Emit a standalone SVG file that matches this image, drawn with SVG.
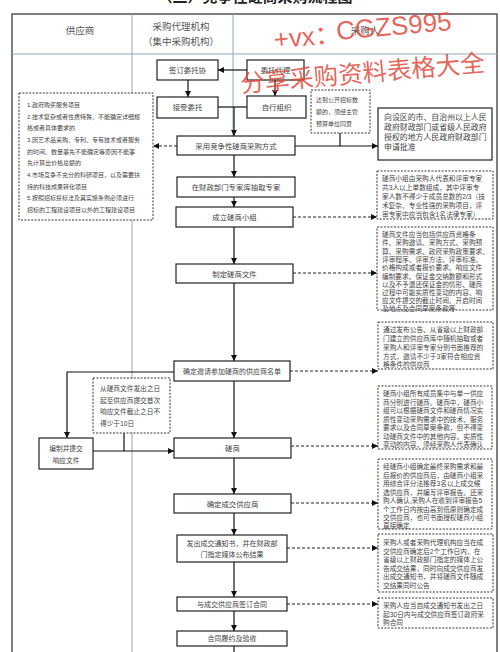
<svg xmlns="http://www.w3.org/2000/svg" width="500" height="652" viewBox="0 0 500 652">
<style>
.box{fill:#fff;stroke:#222;stroke-width:1.2}
.dbox{fill:#fff;stroke:#333;stroke-width:1;stroke-dasharray:2 1.4}
.ln{stroke:#111;stroke-width:1.2;fill:none}
.dl{stroke:#222;stroke-width:1.1;fill:none;stroke-dasharray:3 2}
.sep{stroke:#8fa9bb;stroke-width:1;fill:none}
text{font-family:"Liberation Sans","Noto Sans CJK SC",sans-serif;fill:#444}
.c{text-anchor:middle}
.b{font-size:7.4px}
.h{font-size:9.5px;fill:#555}
.s{font-size:6.7px}
.l{font-size:6px}
.r{font-size:7.9px}
.wm{fill:#e04a3c;fill-opacity:0.85;font-family:"Liberation Sans","Noto Sans CJK SC",sans-serif}
</style>
<defs>
<marker id="ah" viewBox="0 0 10 10" refX="10" refY="5" markerWidth="6" markerHeight="6" markerUnits="userSpaceOnUse" orient="auto">
<path d="M0,0 L10,5 L0,10 z" fill="#111"/>
</marker>
</defs>
<rect width="500" height="652" fill="#fff"/>
<text x="255" y="2" class="c" style="font-size:15px;font-weight:bold;fill:#222">（二）竞争性磋商采购流程图</text>

<g id="frame">
<rect x="12" y="14" width="485" height="660" fill="none" stroke="#555" stroke-width="1.5"/>
<line class="sep" x1="12" y1="54" x2="497" y2="54"/>
<line class="sep" x1="132" y1="14" x2="132" y2="652"/>
<line class="sep" x1="233" y1="14" x2="233" y2="136"/>
<text x="80" y="34" class="c h">供应商</text>
<text x="181" y="30" class="c h">采购代理机构</text>
<text x="181" y="45" class="c h">（集中采购机构）</text>
<text x="365" y="34" class="c h">采购人</text>
</g>

<g id="connectors">
<line class="ln" x1="247" y1="70" x2="218" y2="70" marker-end="url(#ah)"/>
<line class="ln" x1="188" y1="80" x2="188" y2="97" marker-end="url(#ah)"/>
<line class="ln" x1="275" y1="80" x2="275" y2="96" marker-end="url(#ah)"/>
<polyline class="ln" points="218,107 247,107"/>
<line class="ln" x1="234" y1="107" x2="234" y2="136" marker-end="url(#ah)"/>
<line class="dl" x1="177" y1="146" x2="153" y2="146" marker-end="url(#ah)"/>
<line class="ln" x1="295" y1="146" x2="378" y2="146" marker-end="url(#ah)"/>
<line class="ln" x1="340" y1="133" x2="340" y2="146"/>
<line class="ln" x1="234" y1="155" x2="234" y2="177" marker-end="url(#ah)"/>
<line class="ln" x1="234" y1="197" x2="234" y2="207" marker-end="url(#ah)"/>
<line class="dl" x1="293" y1="217" x2="377" y2="217" marker-end="url(#ah)"/>
<line class="ln" x1="234" y1="227" x2="234" y2="264" marker-end="url(#ah)"/>
<line class="dl" x1="293" y1="273" x2="377" y2="273" marker-end="url(#ah)"/>
<line class="ln" x1="234" y1="283" x2="234" y2="361" marker-end="url(#ah)"/>
<line class="dl" x1="290" y1="371" x2="378" y2="371" marker-end="url(#ah)"/>
<polyline class="ln" points="174,372 67,372 67,438" marker-end="url(#ah)"/>
<line class="ln" x1="93" y1="451" x2="174" y2="451" marker-end="url(#ah)"/>
<line class="ln" x1="124" y1="433" x2="124" y2="451"/>
<line class="ln" x1="234" y1="381" x2="234" y2="438" marker-end="url(#ah)"/>
<line class="dl" x1="291" y1="446" x2="378" y2="446" marker-end="url(#ah)"/>
<line class="ln" x1="234" y1="458" x2="234" y2="494" marker-end="url(#ah)"/>
<line class="dl" x1="291" y1="503" x2="378" y2="503" marker-end="url(#ah)"/>
<line class="ln" x1="234" y1="513" x2="234" y2="535" marker-end="url(#ah)"/>
<line class="dl" x1="287" y1="548" x2="378" y2="548" marker-end="url(#ah)"/>
<line class="ln" x1="234" y1="562" x2="234" y2="597" marker-end="url(#ah)"/>
<line class="dl" x1="287" y1="604" x2="378" y2="604" marker-end="url(#ah)"/>
<line class="ln" x1="234" y1="611" x2="234" y2="631" marker-end="url(#ah)"/>
<line class="ln" x1="234" y1="646" x2="234" y2="652"/>
</g>

<g id="n-qdwt"><rect class="box" x="157" y="60" width="61" height="20"/><text x="187.5" y="73" class="c b">签订委托协</text></g>
<g id="n-wtdl"><rect class="box" x="247" y="60" width="57" height="20"/><text x="275.5" y="73" class="c b">委托代理</text></g>
<g id="n-jswt"><rect class="box" x="157" y="97" width="61" height="21"/><text x="187.5" y="110" class="c b">接受委托</text></g>
<g id="n-zxzz"><rect class="box" x="247" y="96" width="59" height="22"/><text x="276.5" y="110" class="c b">自行组织</text></g>

<g id="n-cond">
<rect class="dbox" x="19" y="93" width="134" height="127"/>
<text class="l" x="27" y="107">1.政府购买服务项目</text>
<text class="l" x="27" y="118.5">2.技术复杂或者性质特殊，不能确定详细规</text>
<text class="l" x="27" y="130">格或者具体要求的</text>
<text class="l" x="27" y="142">3.因艺术品采购、专利、专有技术或者服务</text>
<text class="l" x="27" y="153.5">的时间、数量事先不能确定等原因不能事</text>
<text class="l" x="27" y="165">先计算出价格总额的</text>
<text class="l" x="27" y="177">4.市场竞争不充分的科研项目，以及需要扶</text>
<text class="l" x="27" y="188.5">持的科技成果转化项目</text>
<text class="l" x="27" y="200">5.按照招标投标法及其实施条例必须进行</text>
<text class="l" x="27" y="212">招标的工程建设项目以外的工程建设项目</text>
</g>

<g id="n-gkzb">
<rect class="dbox" x="311" y="90" width="59" height="43"/>
<text class="l" x="316" y="102">达到公开招标数</text>
<text class="l" x="316" y="114">额的，须经主管</text>
<text class="l" x="316" y="126">预算单位同意</text>
</g>

<g id="n-sqpz">
<rect class="box" x="378" y="108" width="114" height="52"/>
<text class="r" x="384" y="120">向设区的市、自治州以上人民</text>
<text class="r" x="384" y="130">政府财政部门或省级人民政府</text>
<text class="r" x="384" y="140">授权的地方人民政府财政部门</text>
<text class="r" x="384" y="150">申请批准</text>
</g>

<g id="n-cyfs"><rect class="box" x="177" y="136" width="118" height="19"/><text x="236" y="148.5" class="c b">采用竞争性磋商采购方式</text></g>
<g id="n-cqzj"><rect class="box" x="177" y="177" width="118" height="20"/><text x="236" y="190" class="c b">在财政部门专家库抽取专家</text></g>
<g id="n-clxz"><rect class="box" x="176" y="207" width="117" height="20"/><text x="234.5" y="220" class="c b">成立磋商小组</text></g>

<g id="n-xzsm">
<rect class="dbox" x="377" y="171" width="116" height="48"/>
<text class="s" x="382" y="181">磋商小组由采购人代表和评审专家</text>
<text class="s" x="382" y="190">共3人以上单数组成，其中评审专</text>
<text class="s" x="382" y="199">家人数不得少于成员总数的2/3（技</text>
<text class="s" x="382" y="208">术复杂、专业性强的采购项目，评</text>
<text class="s" x="382" y="217">审专家中应当包含1名法律专家）</text>
</g>

<g id="n-zdwj"><rect class="box" x="176" y="264" width="117" height="19"/><text x="234.5" y="276.5" class="c b">制定磋商文件</text></g>

<g id="n-wjsm">
<rect class="dbox" x="377" y="227" width="116" height="83"/>
<text class="s" x="382" y="237">磋商文件应当包括供应商资格条</text>
<text class="s" x="382" y="245.3">件、采购邀请、采购方式、采购预</text>
<text class="s" x="382" y="253.6">算、采购需求、政府采购政策要求、</text>
<text class="s" x="382" y="261.9">评审程序、评审方法、评审标准、</text>
<text class="s" x="382" y="270.2">价格构成或者报价要求、响应文件</text>
<text class="s" x="382" y="278.5">编制要求、保证金交纳数额和形式</text>
<text class="s" x="382" y="286.8">以及不予退还保证金的情形、磋商</text>
<text class="s" x="382" y="295.1">过程中可能实质性变动的内容、响</text>
<text class="s" x="382" y="303.4">应文件提交的截止时间、开启时间</text>
<text class="s" x="382" y="310.7">及地点及合同草案条款等</text>
</g>

<g id="n-mingdan"><rect class="box" x="174" y="361" width="116" height="20"/><text x="232" y="374" class="c b" style="font-size:7px">确定邀请参加磋商的供应商名单</text></g>

<g id="n-yqsm">
<rect class="dbox" x="378" y="322" width="115" height="47"/>
<text class="s" x="383" y="332">通过发布公告、从省级以上财政部</text>
<text class="s" x="383" y="341">门建立的供应商库中随机抽取或者</text>
<text class="s" x="383" y="350">采购人和评审专家分别书面推荐的</text>
<text class="s" x="383" y="359">方式，邀请不少于3家符合相应资</text>
<text class="s" x="383" y="367">格条件的供应商</text>
</g>

<g id="n-10r">
<rect class="dbox" x="93" y="378" width="77" height="55"/>
<text class="s" x="100" y="391">从磋商文件发出之日</text>
<text class="s" x="100" y="402.5">起至供应商提交首次</text>
<text class="s" x="100" y="414">响应文件截止之日不</text>
<text class="s" x="100" y="425.5">得少于10日</text>
</g>

<g id="n-bzxy"><rect class="box" x="39" y="438" width="54" height="31"/><text x="66" y="451" class="c s">编制并提交</text><text x="66" y="463" class="c s">响应文件</text></g>

<g id="n-cs"><rect class="box" x="174" y="438" width="117" height="20"/><text x="232.5" y="451" class="c b">磋商</text></g>

<g id="n-cssm">
<rect class="dbox" x="378" y="386" width="114" height="63"/>
<text class="s" x="383" y="396">磋商小组所有成员集中与单一供应</text>
<text class="s" x="383" y="404.5">商分别进行磋商。磋商中，磋商小</text>
<text class="s" x="383" y="413">组可以根据磋商文件和磋商情况实</text>
<text class="s" x="383" y="421.5">质性变动采购需求中的技术、服务</text>
<text class="s" x="383" y="430">要求以及合同草案条款，但不得变</text>
<text class="s" x="383" y="438.5">动磋商文件中的其他内容。实质性</text>
<text class="s" x="383" y="447">变动的内容，须经采购人代表确认</text>
</g>

<g id="n-qdcj"><rect class="box" x="174" y="494" width="117" height="19"/><text x="232.5" y="506.5" class="c b">确定成交供应商</text></g>

<g id="n-cjsm">
<rect class="dbox" x="378" y="459" width="114" height="70"/>
<text class="s" x="383" y="469">经磋商小组确定最终采购需求和最</text>
<text class="s" x="383" y="477.5">后报价的供应商后，由磋商小组采</text>
<text class="s" x="383" y="486">用综合评分法推荐3名以上成交候</text>
<text class="s" x="383" y="494.5">选供应商，并编写评审报告。还采</text>
<text class="s" x="383" y="503">购人确认,采购人在收到评审报告5</text>
<text class="s" x="383" y="511.5">个工作日内按由高到低原则确定成</text>
<text class="s" x="383" y="520">交供应商，也可书面授权磋商小组</text>
<text class="s" x="383" y="528">直接确定</text>
</g>

<g id="n-tzs"><rect class="box" x="177" y="535" width="110" height="27"/><text x="232" y="546" class="c b" style="font-size:7px">发出成交通知书，并在财政部</text><text x="232" y="557" class="c b" style="font-size:7px">门指定媒体公布结果</text></g>

<g id="n-tzsm">
<rect class="dbox" x="378" y="534" width="115" height="58"/>
<text class="s" x="383" y="545">采购人或者采购代理机构应当在成</text>
<text class="s" x="383" y="553.5">交供应商确定后2个工作日内，在</text>
<text class="s" x="383" y="562">省级以上财政部门指定的媒体上公</text>
<text class="s" x="383" y="570.5">告成交结果，同时向成交供应商发</text>
<text class="s" x="383" y="579">出成交通知书，并将磋商文件随成</text>
<text class="s" x="383" y="587.5">交结果同时公告</text>
</g>

<g id="n-qdht"><rect class="box" x="177" y="597" width="110" height="14"/><text x="232" y="606.5" class="c b" style="font-size:7px">与成交供应商签订合同</text></g>

<g id="n-htsm">
<rect class="dbox" x="378" y="598" width="115" height="30"/>
<text class="s" x="383" y="608">采购人应当自成交通知书发出之日</text>
<text class="s" x="383" y="616.5">起30日内与成交供应商签订政府采</text>
<text class="s" x="383" y="625">购合同</text>
</g>

<g id="n-lyys"><rect class="box" x="177" y="631" width="110" height="15"/><text x="232" y="641" class="c b" style="font-size:7px">合同履约及验收</text></g>

<g id="watermark" transform="rotate(-5 360 50)">
<text x="275" y="41" class="wm" style="font-size:26px">+vx：</text>
<text x="338" y="38" class="wm" style="font-size:26px">CGZS995</text>
<text x="238" y="82" class="wm" style="font-size:24.5px">分享采购资料表格大全</text>
</g>
</svg>
